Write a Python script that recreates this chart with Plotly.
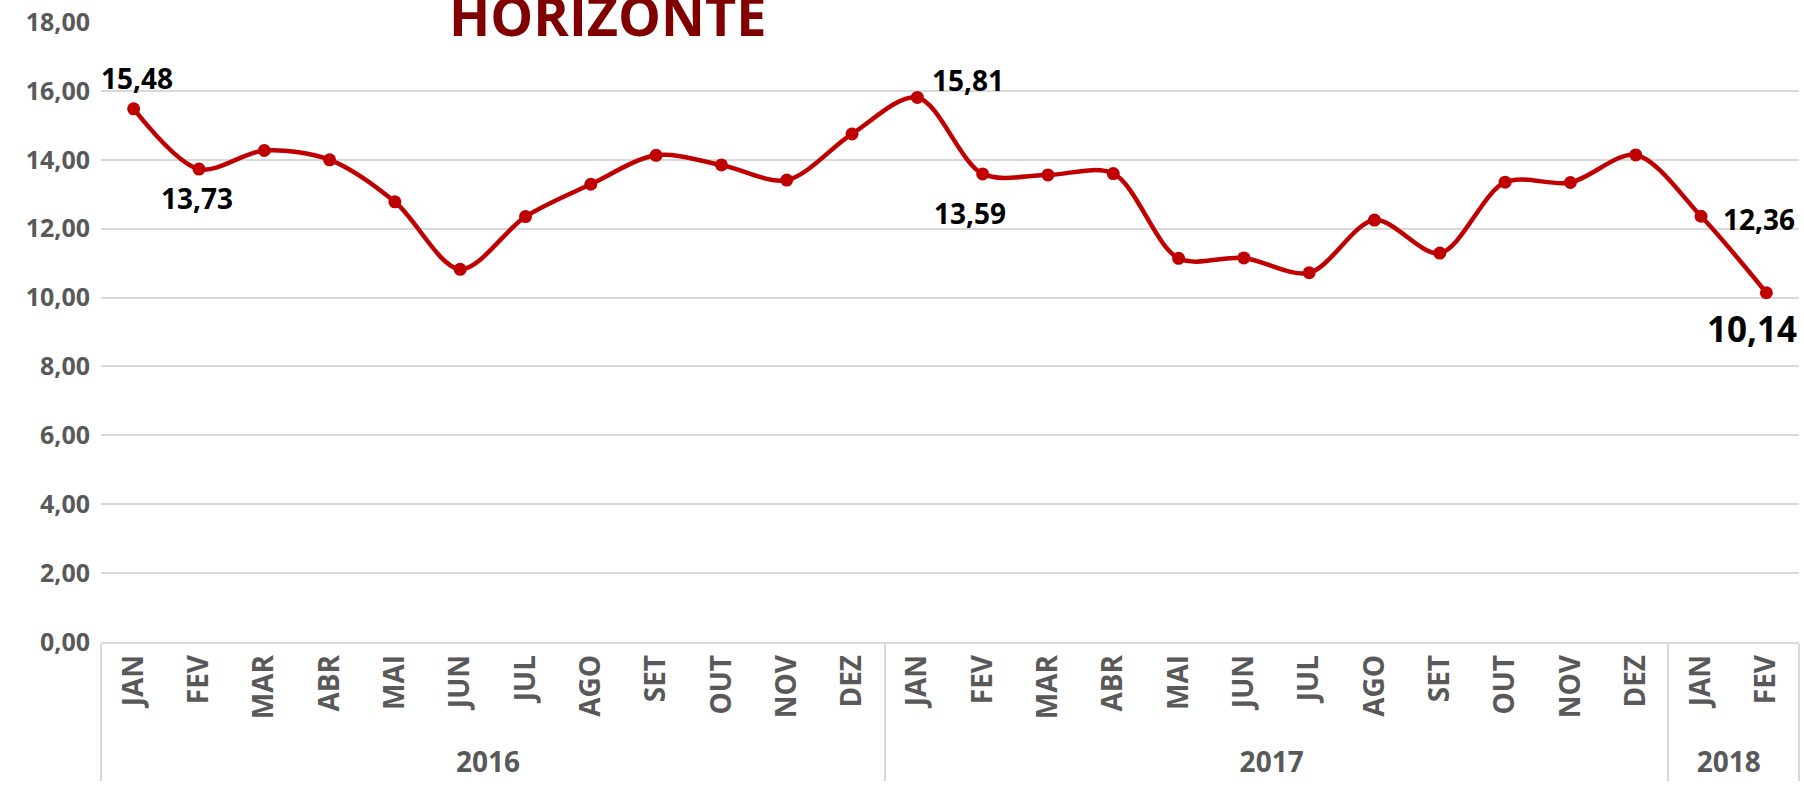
import plotly.graph_objects as go

# ---- data ----
years = ["2016"] * 12 + ["2017"] * 12 + ["2018"] * 2
months = (["JAN", "FEV", "MAR", "ABR", "MAI", "JUN", "JUL", "AGO", "SET", "OUT", "NOV", "DEZ"] * 2
          + ["JAN", "FEV"])
values = [15.48, 13.73, 14.27, 14.00, 12.78, 10.82, 12.35, 13.29, 14.13, 13.85, 13.41, 14.75,
          15.81, 13.59, 13.56, 13.60, 11.14, 11.15, 10.72, 12.25, 11.29, 13.35, 13.34, 14.14,
          12.36, 10.14]
labeled_points = [0, 1, 12, 13, 24, 25]
title_text = "HORIZONTE"
y_ticks = [0, 2, 4, 6, 8, 10, 12, 14, 16, 18]

FONT = "Open Sans"
RED = "#C00000"
GRID = "#D9D9D9"
GRAY = "#595959"

fig = go.Figure()
fig.add_trace(go.Scatter(
    x=[years, months], y=values,
    mode="lines+markers",
    line=dict(color=RED, width=4.5, shape="spline", smoothing=0.9),
    marker=dict(color=RED, size=13),
    cliponaxis=False,
    showlegend=False,
    hoverinfo="skip",
))

# label offsets (pixels) per labelled point: (xshift, yshift, font size)
label_style = {
    0: (3, 31, 28),
    1: (-2, -29, 28),
    12: (51, 17, 28),
    13: (-13, -39, 28),
    24: (58, -3, 28),
    25: (-14, -36, 35),
}
for i in labeled_points:
    xs, ys, fs = label_style[i]
    fig.add_annotation(
        x=i, y=values[i], xref="x", yref="y",
        text=f"{values[i]:.2f}".replace(".", ","),
        showarrow=False, xshift=xs, yshift=ys,
        xanchor="center", yanchor="middle",
        font=dict(family=FONT, size=fs, color="black", weight="bold"),
    )

fig.add_annotation(
    x=0.2986, y=1.011, xref="paper", yref="paper",
    text=title_text, showarrow=False,
    xanchor="center", yanchor="middle",
    font=dict(family=FONT, size=54, color="#800000", weight="bold"),
)

fig.update_layout(
    width=1804, height=787,
    margin=dict(l=101, r=5, t=22, b=145, autoexpand=False),
    paper_bgcolor="white", plot_bgcolor="white",
    separators=",.",
    xaxis=dict(
        type="multicategory",
        range=[-0.5, len(values) - 0.5],
        autorange=False,
        automargin=False,
        tickangle=-90,
        tickfont=dict(family=FONT, size=28, color=GRAY, weight="bold"),
        showgrid=False,
        showline=True, linecolor=GRID, linewidth=1.5,
        showdividers=True, dividercolor=GRID, dividerwidth=1.5,
        ticks="outside", ticklen=22, tickcolor="rgba(0,0,0,0)",
    ),
    yaxis=dict(
        range=[0, 18],
        autorange=False,
        automargin=False,
        tickvals=y_ticks,
        tickformat=".2f",
        tickfont=dict(family=FONT, size=25, color=GRAY, weight="bold"),
        showgrid=True, gridcolor=GRID, gridwidth=1.5,
        zeroline=False, showline=False,
        ticklabelstandoff=10,
    ),
)

fig.write_html("out.html", config={"displayModeBar": False},
               post_script="document.body.style.margin='0';")
